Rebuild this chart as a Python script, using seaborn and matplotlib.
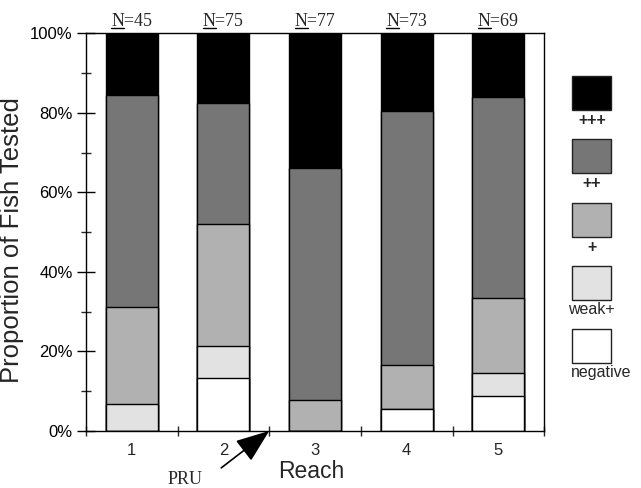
import matplotlib
matplotlib.use("Agg")
import matplotlib.pyplot as plt
from matplotlib.patches import Rectangle
from matplotlib.lines import Line2D
from matplotlib.ticker import FixedLocator
import seaborn as sns
import pandas as pd
import numpy as np

# ---------------------------------------------------------
# data (percent of fish tested)
# ---------------------------------------------------------
reaches = ["1", "2", "3", "4", "5"]
n_fish = [45, 75, 77, 73, 69]

categories = ["negative", "weak+", "+", "++", "+++"]
negative = [0.0, 13.3, 0.0, 5.5, 8.7]
weak_plus = [6.7, 8.0, 0.0, 0.0, 5.8]
plus1 = [24.4, 30.7, 7.8, 11.0, 18.8]
plus2 = [53.3, 30.4, 58.2, 64.0, 50.7]
plus3 = [15.6, 17.6, 34.0, 19.5, 16.0]

colors = {"negative": "#ffffff", "weak+": "#e2e2e2", "+": "#b1b1b1",
          "++": "#767676", "+++": "#000000"}

df = pd.DataFrame({"Reach": reaches, "negative": negative, "weak+": weak_plus,
                   "+": plus1, "++": plus2, "+++": plus3})
# cumulative tops for stacking
cum = df[categories].cumsum(axis=1)
cum["Reach"] = df["Reach"]

# ---------------------------------------------------------
# figure
# ---------------------------------------------------------
sns.set_style("ticks")
plt.rcParams["font.family"] = ["Liberation Sans", "DejaVu Sans"]

fig = plt.figure(figsize=(6.41, 4.88), dpi=100)
ax = fig.add_axes([0.134, 0.117, 0.715, 0.815])

# draw from the top category down so each lower layer covers the one above
for cat in categories[::-1]:
    sns.barplot(data=cum, x="Reach", y=cat, order=reaches, color=colors[cat],
                saturation=1, width=0.565, edgecolor="black", linewidth=1,
                errorbar=None, ax=ax)

ax.set_xlim(-0.5, 4.5)
ax.set_ylim(0, 100)

for side in ["top", "right", "left", "bottom"]:
    ax.spines[side].set_visible(True)
    ax.spines[side].set_linewidth(1)
    ax.spines[side].set_color("black")

# y axis
ax.set_yticks(np.arange(0, 101, 20))
ax.set_yticklabels([f"{v}%" for v in range(0, 101, 20)])
ax.yaxis.set_minor_locator(FixedLocator(np.arange(10, 100, 20)))
ax.tick_params(axis="y", which="major", direction="inout", length=13, width=1,
               labelsize=12, pad=3, colors="black")
ax.tick_params(axis="y", which="minor", direction="inout", length=6.5, width=1)

# x axis: labels at bar centres, ticks between bars
ax.set_xticks(range(len(reaches)))
ax.set_xticklabels(reaches)
ax.xaxis.set_minor_locator(FixedLocator(np.arange(-0.5, 4.6, 1.0)))
ax.tick_params(axis="x", which="major", length=0, labelsize=12, pad=8.5)
ax.tick_params(axis="x", which="minor", direction="inout", length=6.5, width=1)

ax.set_ylabel("Proportion of Fish Tested", fontsize=18.5)
ax.yaxis.set_label_coords(-0.135, 0.48)
ax.set_xlabel("Reach", fontsize=16.5, va="top")
ax.xaxis.set_label_coords(0.491, -0.072)

# sample sizes above the bars (N underlined)
n_texts = []
for i, n in enumerate(n_fish):
    t = ax.annotate(f"N={n}", xy=(i, 100), xytext=(0, 5),
                    textcoords="offset points", ha="center", va="baseline",
                    fontsize=13, family="Liberation Serif",
                    annotation_clip=False)
    n_texts.append(t)

fig.canvas.draw()
renderer = fig.canvas.get_renderer()
probe = fig.text(0, 0, "N", fontsize=13, family="Liberation Serif")
n_width = probe.get_window_extent(renderer).width
probe.remove()
for t in n_texts:
    bb = t.get_window_extent(renderer)
    x0 = bb.x0 / fig.bbox.width
    x1 = (bb.x0 + n_width) / fig.bbox.width
    # baseline of the label sits 5 pt above the top of the axes
    y_base = ax.get_window_extent(renderer).y1 + 5 * fig.dpi / 72
    yl = (y_base - 2) / fig.bbox.height
    fig.add_artist(Line2D([x0, x1], [yl, yl], color="black", lw=1,
                          transform=fig.transFigure))

# PRU arrow
ax.annotate("", xy=(1.5, 0), xytext=(-48, -37), textcoords="offset pixels",
            arrowprops=dict(arrowstyle="-|>,head_length=1.05,head_width=0.4",
                            mutation_scale=20, lw=1.2, color="black",
                            shrinkA=0, shrinkB=0),
            annotation_clip=False)
fig.text(0.289, 0.017, "PRU", family="Liberation Serif", fontsize=13,
         ha="center", va="center")

# legend drawn as boxes with labels underneath
box_tops = [76, 139, 203, 266, 329]
legend_order = ["+++", "++", "+", "weak+", "negative"]
W, H = 641.0, 488.0
for cat, top in zip(legend_order, box_tops):
    fig.add_artist(Rectangle((572 / W, 1 - (top + 34) / H), 39 / W, 34 / H,
                             transform=fig.transFigure, facecolor=colors[cat],
                             edgecolor="#222222", linewidth=1))
    if cat == "negative":
        fig.text(571 / W, 1 - (top + 36) / H, cat, ha="left", va="top",
                 fontsize=11.5)
    elif cat == "weak+":
        fig.text(591 / W, 1 - (top + 36) / H, cat, ha="center", va="top",
                 fontsize=11.5)
    else:
        fig.text(592 / W, 1 - (top + 37) / H, cat, ha="center", va="top",
                 fontsize=11.5, fontweight="bold")

fig.savefig("out.png", dpi=100)
